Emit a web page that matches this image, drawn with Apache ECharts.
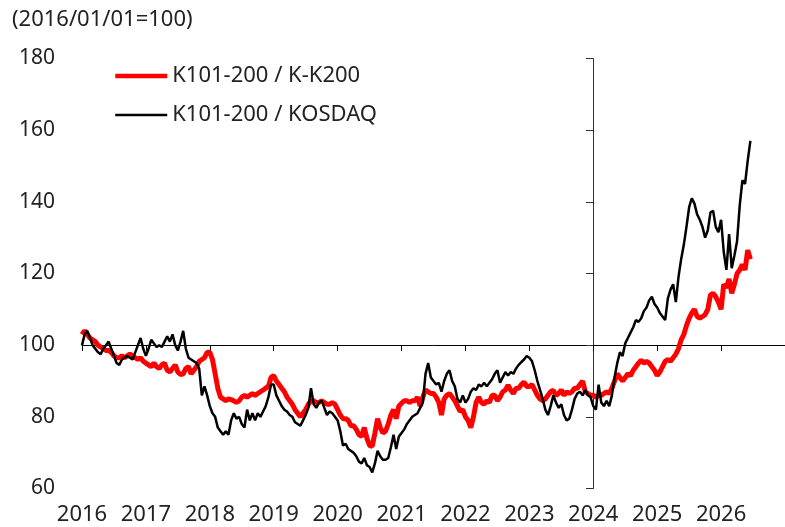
<!DOCTYPE html>
<html>
<head>
<meta charset="utf-8">
<script src="https://cdn.jsdelivr.net/npm/echarts@6/dist/echarts.min.js"></script>
<style>
  html, body { margin: 0; padding: 0; background: #fff; }
  #chart { width: 785px; height: 527px; }
</style>
</head>
<body>
<div id="chart"></div>
<script>
// semi-monthly readings, 24 per year from 2016/01
const startYear = 2016
const stepsPerYear = 24

const redK200 = [
  103, 104, 103, 102, 101.5, 101, 100, 99.5, 99, 98.5, 98.5, 98, 97, 96.5, 96.5, 97, 96.5, 97, 97.5, 97, 96.5, 96, 96.5, 95.5,
  95, 94.5, 94, 95, 94, 93.5, 94.5, 95, 93, 92.5, 93.5, 94.5, 92.5, 91.8, 92, 93.5, 94, 92, 93, 94, 95.5, 96, 96.5, 98,
  98, 96, 92, 88, 85.5, 85, 84.5, 85, 84.8, 84.5, 84, 84.5, 85.5, 86, 85.5, 86, 86.5, 86, 86.5, 87, 87.5, 88, 88.5, 91,
  91.5, 90, 89, 88, 87, 85.5, 84.5, 83.5, 82, 81, 80, 81, 82, 83.5, 84.5, 84.5, 84, 84, 84.5, 84, 83.5, 83.5, 84, 83.5,
  82, 80.5, 79.5, 79.5, 79, 77.5, 77.5, 76.5, 75, 74.5, 77, 74, 72, 71.8, 75.5, 79.5, 77, 75.5, 76, 78, 80.5, 82, 79.5, 83,
  83.8, 84.5, 84.5, 84, 84.5, 84.5, 85.5, 83, 85.5, 87.5, 87, 86.5, 86.5, 85.5, 84, 80.5, 85, 86, 86.5, 85.5, 84.5, 83, 81.5, 82,
  80, 79, 77, 80, 84, 85.5, 84, 83.5, 84.5, 84, 86, 86, 84.5, 85.5, 87, 87.5, 88.8, 87.5, 86.5, 88, 88, 89, 89.7, 88.5,
  88.5, 89, 87.5, 86, 85, 84.5, 85, 86, 87, 87.4, 86, 86.5, 87.5, 86, 87, 86.5, 87, 88, 88, 89, 90, 87, 86.5, 86,
  86, 85.5, 86, 86, 86.5, 87, 86.5, 88, 90, 92, 91, 90, 91, 92, 91.5, 93, 94, 95, 95.8, 95, 95.5, 95, 94, 93,
  91.5, 92.5, 94, 95.5, 96, 95.5, 96.5, 97.5, 99, 101.5, 103, 105.5, 107.5, 109, 110, 108, 107.5, 108, 108.5, 110, 114, 114.5, 113.5, 112,
  110, 117, 116, 118.5, 114.5, 117, 120, 121, 122.5, 121, 126.5, 124
]

const blackKosdaq = [
  100, 103, 104, 102, 100, 99, 98, 97.5, 99, 100, 101, 99, 97, 95, 94.5, 96, 96.5, 97, 96.5, 96, 98, 100, 102, 99,
  97, 99, 101.5, 100.5, 99.5, 100, 99.5, 101, 102.5, 101, 103, 100, 98.5, 101, 104, 99, 96.5, 96, 95.5, 95, 93.5, 86, 88.5, 86,
  83, 81, 80, 77, 76, 75, 76, 75, 79, 81, 79.5, 80, 78, 77, 82, 79, 81, 79, 81, 80, 81.5, 83, 85.5, 89,
  89, 86, 84.5, 83, 82, 81.5, 80.5, 80, 78.5, 78, 77.5, 79, 80.5, 82.5, 88, 83.5, 82.5, 84, 84.5, 82.5, 80.5, 81.5, 81, 80,
  79, 76, 72, 72.5, 71, 70.5, 70, 69, 67.5, 67, 68.5, 66.5, 66, 64.5, 67, 70.5, 69, 68, 68, 68.5, 71.5, 75, 71, 74.5,
  75.5, 76.5, 78, 79, 80, 80.5, 81, 82.5, 84, 92, 95, 91, 90, 89, 89.5, 87, 90, 92, 93, 90, 88.5, 85, 84, 86,
  84, 85, 87, 88, 87.5, 89, 88.5, 89.5, 88.5, 89.5, 90.5, 92, 93, 89.5, 91, 92.5, 91.5, 92.5, 92, 93.5, 94.5, 95.3, 96, 97,
  96.5, 95.5, 93, 90, 87.5, 85, 82, 80.5, 83, 86, 84, 82.5, 83.5, 80.5, 79, 79.5, 82, 85, 86.5, 87, 86, 87.5, 86, 85.5,
  83, 82, 89, 84, 83, 84.5, 83, 86, 91, 95, 98, 97, 100.5, 102, 103.5, 105, 107, 106.5, 107.5, 109.5, 110.5, 112.5, 113.5, 111.5,
  110.5, 109, 108, 107, 113, 115.5, 117, 112, 119, 124, 128, 133, 138.5, 141, 139.5, 136.5, 135, 133, 130, 132, 137, 137.5, 133, 131.5,
  135, 126, 121, 131, 121.5, 125, 129, 139, 146, 145, 151.5, 157
]

const seriesNames = ['K101-200 / K-K200', 'K101-200 / KOSDAQ']
const baseNote = '(2016/01/01=100)'

const toPoints = (arr) => arr.map((v, i) => [startYear + i / stepsPerYear, v])

const chart = echarts.init(document.getElementById('chart'))
const font = 'Noto Sans'
const txt = '#222'

chart.setOption({
  animation: false,
  title: {
    text: baseNote,
    left: 7,
    top: 4,
    textStyle: { fontFamily: font, fontSize: 22, fontWeight: 'normal', color: txt }
  },
  legend: {
    orient: 'vertical',
    left: 108,
    top: 60,
    itemWidth: 52,
    itemHeight: 14,
    itemGap: 17,
    textStyle: { fontFamily: font, fontSize: 22, color: txt },
    data: [
      { name: seriesNames[0], itemStyle: { opacity: 0 }, lineStyle: { width: 4.5, color: '#ff0000' } },
      { name: seriesNames[1], itemStyle: { opacity: 0 }, lineStyle: { width: 2.5, color: '#000' } }
    ]
  },
  grid: [
    { left: 82, right: 0, top: 58.5, bottom: 38.5 },
    { left: 82, right: 0, top: 58.5, bottom: 182 },
    { left: 593, right: 0, top: 58.5, bottom: 38.5 }
  ],
  xAxis: [
    {
      type: 'value', min: 2016, max: 2027, interval: 1,
      axisLine: { show: false }, axisTick: { show: false }, splitLine: { show: false },
      axisLabel: {
        showMaxLabel: false, margin: 15,
        fontFamily: font, fontSize: 22, color: txt,
        formatter: (v) => String(v)
      }
    },
    {
      type: 'value', gridIndex: 1, min: 2016, max: 2027, interval: 1,
      axisLine: { show: true, onZero: false, lineStyle: { color: '#000', width: 1 } },
      axisTick: { show: true, length: 6, lineStyle: { color: '#000' } },
      axisLabel: { show: false }, splitLine: { show: false }
    },
    {
      type: 'value', gridIndex: 2, min: 0, max: 1, show: false
    }
  ],
  yAxis: [
    {
      type: 'value', min: 60, max: 180, interval: 20,
      axisLine: { show: false }, axisTick: { show: false }, splitLine: { show: false },
      axisLabel: { margin: 27, fontFamily: font, fontSize: 21, color: txt }
    },
    { type: 'value', gridIndex: 1, min: 0, max: 1, show: false },
    {
      type: 'value', gridIndex: 2, min: 60, max: 180, interval: 20, position: 'left',
      axisLine: { show: true, onZero: false, lineStyle: { color: '#333', width: 1 } },
      axisTick: { show: true, length: 7, lineStyle: { color: '#333' } },
      axisLabel: { show: false }, splitLine: { show: false }
    }
  ],
  series: [
    {
      name: seriesNames[0], type: 'line', showSymbol: false, symbol: 'none',
      data: toPoints(redK200),
      lineStyle: { color: '#ff0000', width: 5 }, itemStyle: { color: '#ff0000' }, z: 3
    },
    {
      name: seriesNames[1], type: 'line', showSymbol: false, symbol: 'none',
      data: toPoints(blackKosdaq),
      lineStyle: { color: '#000', width: 2.5 }, itemStyle: { color: '#000' }, z: 4
    }
  ]
})
</script>
</body>
</html>
